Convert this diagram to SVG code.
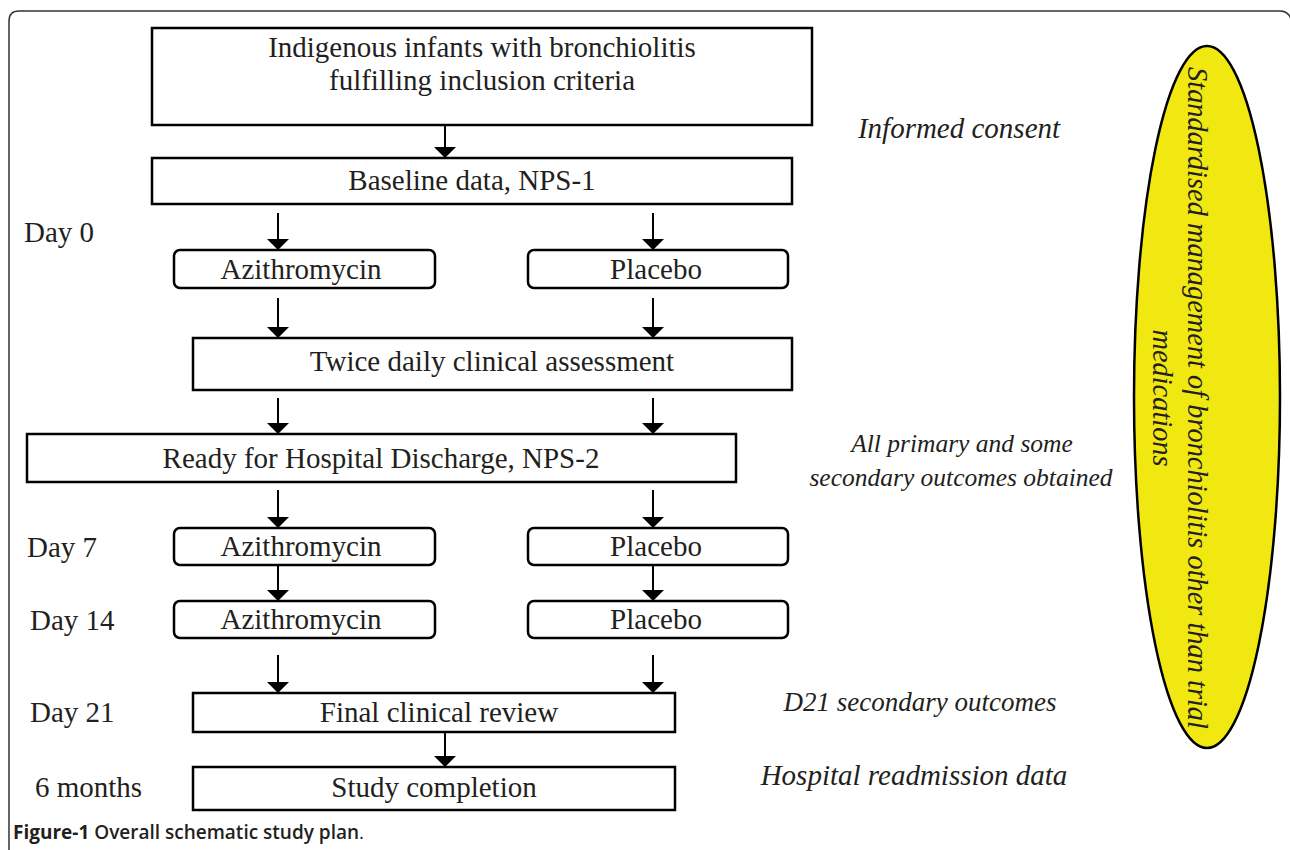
<svg xmlns="http://www.w3.org/2000/svg" width="1290" height="850" viewBox="0 0 1290 850">
<style>
.box{fill:#fff;stroke:#000;stroke-width:2.5}
.t{font-family:"Liberation Serif","Times New Roman",serif;font-size:29px;fill:#231f20;text-anchor:middle}
.d{font-family:"Liberation Serif","Times New Roman",serif;font-size:29px;fill:#231f20}
.i{font-family:"Liberation Serif","Times New Roman",serif;font-size:29px;font-style:italic;fill:#231f20;text-anchor:middle}
.c{stroke:#000;stroke-width:2;fill:none}
.cap{font-family:"Open Sans","Liberation Sans",sans-serif;font-size:19px;fill:#231f20}
</style>
<defs>
<marker id="ah" viewBox="0 0 11 22" refX="11" refY="11" markerWidth="11" markerHeight="22" markerUnits="userSpaceOnUse" orient="auto">
<path d="M0,0 L11,11 L0,22 Z" fill="#000"/>
</marker>
</defs>
<rect width="1290" height="850" fill="#fff"/>
<path d="M9,860 L9,21 Q9,11 19,11 L1280,11 Q1288,11 1291,19" fill="none" stroke="#333" stroke-width="1.5"/>

<g id="ellipse">
<ellipse cx="1207" cy="397" rx="73" ry="351" fill="#f2e811" stroke="#000" stroke-width="2.5"/>
<g transform="translate(1188,398) rotate(90)">
<text class="i" x="0" y="0" style="font-size:28.4px">Standardised management of bronchiolitis other than trial</text>
<text class="i" x="0" y="35" style="font-size:28.4px">medications</text>
</g>
</g>

<g id="connectors">
<line class="c" x1="445" y1="125" x2="445" y2="158" marker-end="url(#ah)"/>
<line class="c" x1="278" y1="213" x2="278" y2="250" marker-end="url(#ah)"/>
<line class="c" x1="653" y1="213" x2="653" y2="250" marker-end="url(#ah)"/>
<line class="c" x1="278" y1="298" x2="278" y2="338" marker-end="url(#ah)"/>
<line class="c" x1="653" y1="298" x2="653" y2="338" marker-end="url(#ah)"/>
<line class="c" x1="278" y1="398" x2="278" y2="434" marker-end="url(#ah)"/>
<line class="c" x1="653" y1="398" x2="653" y2="434" marker-end="url(#ah)"/>
<line class="c" x1="278" y1="490" x2="278" y2="528" marker-end="url(#ah)"/>
<line class="c" x1="653" y1="490" x2="653" y2="528" marker-end="url(#ah)"/>
<line class="c" x1="278" y1="565" x2="278" y2="601" marker-end="url(#ah)"/>
<line class="c" x1="653" y1="565" x2="653" y2="601" marker-end="url(#ah)"/>
<line class="c" x1="278" y1="655" x2="278" y2="693" marker-end="url(#ah)"/>
<line class="c" x1="653" y1="655" x2="653" y2="693" marker-end="url(#ah)"/>
<line class="c" x1="445" y1="732" x2="445" y2="767" marker-end="url(#ah)"/>
</g>

<g id="n-top">
<rect class="box" x="152" y="28" width="660" height="97"/>
<text class="t" x="482" y="57">Indigenous infants with bronchiolitis</text>
<text class="t" x="482" y="90">fulfilling inclusion criteria</text>
</g>
<g id="n-baseline">
<rect class="box" x="152" y="158" width="640" height="46"/>
<text class="t" x="472" y="190">Baseline data, NPS-1</text>
</g>
<g id="n-azi0">
<rect class="box" x="174" y="250" width="261" height="38" rx="6"/>
<text class="t" x="301" y="279">Azithromycin</text>
</g>
<g id="n-pla0">
<rect class="box" x="528" y="250" width="260" height="38" rx="6"/>
<text class="t" x="656" y="279">Placebo</text>
</g>
<g id="n-twice">
<rect class="box" x="193" y="338" width="599" height="52"/>
<text class="t" x="492" y="371">Twice daily clinical assessment</text>
</g>
<g id="n-ready">
<rect class="box" x="27" y="434" width="709" height="48"/>
<text class="t" x="381" y="468">Ready for Hospital Discharge, NPS-2</text>
</g>
<g id="n-azi7">
<rect class="box" x="174" y="528" width="261" height="37" rx="6"/>
<text class="t" x="301" y="556">Azithromycin</text>
</g>
<g id="n-pla7">
<rect class="box" x="528" y="528" width="260" height="37" rx="6"/>
<text class="t" x="656" y="556">Placebo</text>
</g>
<g id="n-azi14">
<rect class="box" x="174" y="601" width="261" height="37" rx="6"/>
<text class="t" x="301" y="629">Azithromycin</text>
</g>
<g id="n-pla14">
<rect class="box" x="528" y="601" width="260" height="37" rx="6"/>
<text class="t" x="656" y="629">Placebo</text>
</g>
<g id="n-final">
<rect class="box" x="193" y="693" width="482" height="39"/>
<text class="t" x="439" y="722">Final clinical review</text>
</g>
<g id="n-study">
<rect class="box" x="193" y="767" width="482" height="43"/>
<text class="t" x="434" y="797">Study completion</text>
</g>

<g id="labels">
<text class="d" x="24" y="242">Day 0</text>
<text class="d" x="27" y="557">Day 7</text>
<text class="d" x="30" y="630">Day 14</text>
<text class="d" x="30" y="722">Day 21</text>
<text class="d" x="35" y="797">6 months</text>
<text class="i" x="959" y="138">Informed consent</text>
<text class="i" x="962" y="452" style="font-size:25.5px">All primary and some</text>
<text class="i" x="961" y="486" style="font-size:25.5px">secondary outcomes obtained</text>
<text class="i" x="920" y="711" style="font-size:27px">D21 secondary outcomes</text>
<text class="i" x="914" y="785">Hospital readmission data</text>
</g>
<text class="cap" x="13" y="839"><tspan font-weight="700">Figure-1</tspan><tspan font-weight="600"> Overall schematic study plan</tspan>.</text>
</svg>
